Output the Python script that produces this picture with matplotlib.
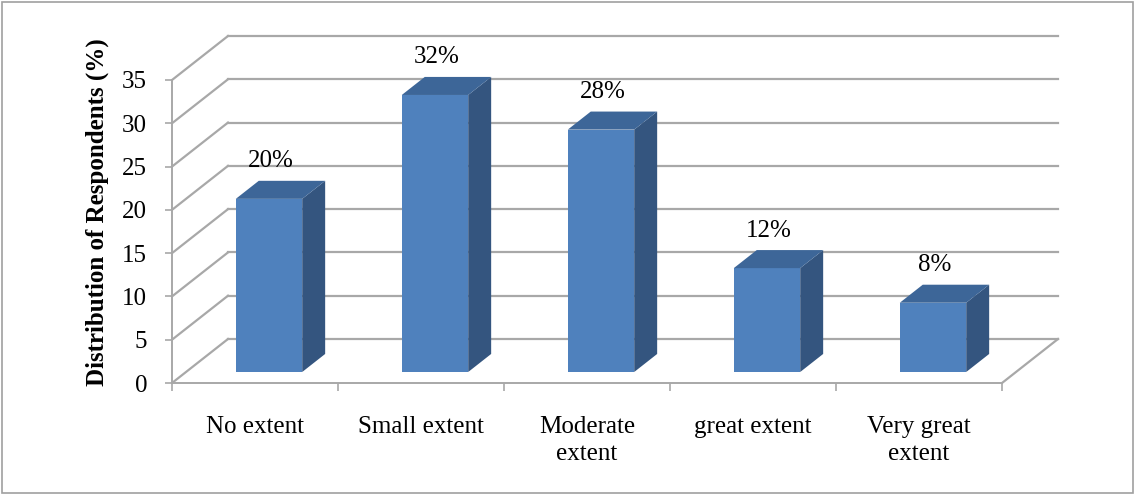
import matplotlib.pyplot as plt
from matplotlib.patches import Polygon, Rectangle

categories = ["No extent", "Small extent", "Moderate\nextent", "great extent", "Very great\nextent"]
values = [20, 32, 28, 12, 8]
value_labels = ["20%", "32%", "28%", "12%", "8%"]
y_ticks = [0, 5, 10, 15, 20, 25, 30, 35]

# oblique depth offset (category units, value units) for full depth
KX = 56 / 166
KY = 44 / (303 / 35)
D0, D1 = 0.25, 0.66   # bar front / back depth
BW = 0.4              # bar width in category units

GRID = "#a8a8a8"
FRONT = "#4f81bd"
SIDE = "#34557f"
TOP = "#3d6698"
FS = 18

plt.rcParams["font.family"] = ["Liberation Serif", "DejaVu Serif"]

fig = plt.figure(figsize=(11.35, 4.95), dpi=100)
W, H = 1135, 495
ax = fig.add_axes([172 / W, (H - 383) / H, 830 / W, 303 / H])
n = len(categories)
ax.set_xlim(0, n)
ax.set_ylim(0, 35)

# back wall gridlines and left wall diagonals
for v in y_ticks:
    ax.plot([KX, n + KX], [v + KY, v + KY], color=GRID, lw=1.6, clip_on=False, zorder=1)
    ax.plot([0, KX], [v, v + KY], color=GRID, lw=1.6, clip_on=False, zorder=1)
ax.plot([n, n + KX], [0, KY], color=GRID, lw=1.6, clip_on=False, zorder=1)

# bars: front faces via bar(), side and top faces as polygons
centers = [i + 0.5 for i in range(n)]
ax.bar([c + D0 * KX for c in centers], values, width=BW, bottom=D0 * KY,
       color=FRONT, zorder=3, clip_on=False)
for c, v, lab in zip(centers, values, value_labels):
    x0 = c - BW / 2 + D0 * KX
    x1 = c + BW / 2 + D0 * KX
    y0 = D0 * KY
    y1 = v + D0 * KY
    dx = (D1 - D0) * KX
    dy = (D1 - D0) * KY
    ax.add_patch(Polygon([(x1, y0), (x1 + dx, y0 + dy), (x1 + dx, y1 + dy), (x1, y1)],
                         closed=True, facecolor=SIDE, edgecolor="none", zorder=3, clip_on=False))
    ax.add_patch(Polygon([(x0, y1), (x1, y1), (x1 + dx, y1 + dy), (x0 + dx, y1 + dy)],
                         closed=True, facecolor=TOP, edgecolor="none", zorder=3, clip_on=False))
    ax.annotate(lab, xy=(c + D0 * KX, v + D1 * KY), xytext=(1, 14), textcoords="offset points",
                ha="center", va="center", fontsize=FS, annotation_clip=False)

for side in ["top", "right"]:
    ax.spines[side].set_visible(False)
for side in ["left", "bottom"]:
    ax.spines[side].set_color(GRID)
    ax.spines[side].set_linewidth(1.4)
ax.set_facecolor("none")

ax.set_yticks(y_ticks)
ax.tick_params(axis="y", length=5, width=1.2, color=GRID, pad=13, labelsize=FS)
ax.set_xticks(range(n + 1))
ax.set_xticklabels([])
ax.tick_params(axis="x", which="major", length=6, width=1.2, color=GRID)
ax.set_xticks(centers, minor=True)
ax.set_xticklabels(categories, minor=True, fontsize=FS, linespacing=1.3)
ax.tick_params(axis="x", which="minor", length=0, pad=24)

fig.text(97 / W, 1 - 212 / H, "Distribution of Respondents (%)", rotation=90,
         ha="center", va="center", fontsize=18, fontweight="bold")

fig.patches.append(Rectangle((2 / W, 2 / H), 1 - 4 / W, 1 - 4 / H, transform=fig.transFigure,
                             fill=False, edgecolor="#a0a0a0", lw=1.2))

fig.savefig("out.png", dpi=100)
